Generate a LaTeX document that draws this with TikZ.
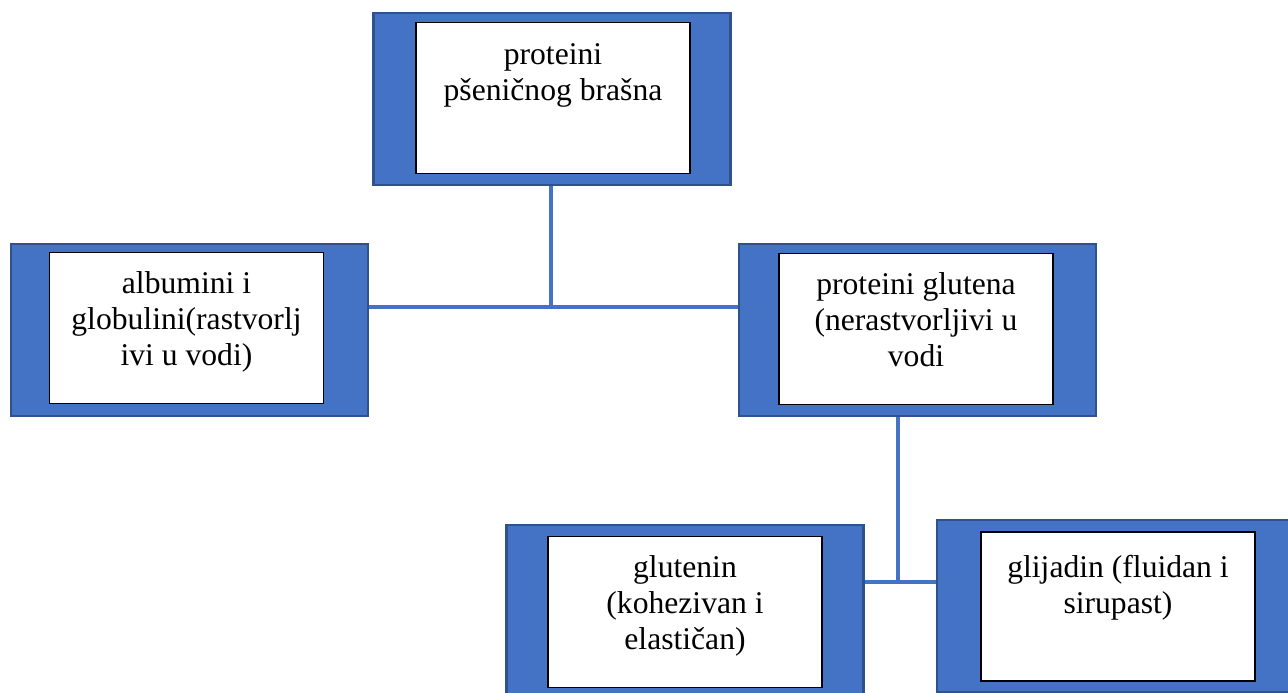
\documentclass[tikz,border=0pt]{standalone}
\usepackage{fontspec}
\setmainfont{Liberation Serif}
\usepackage{xcolor}
\usetikzlibrary{positioning}

\definecolor{plava}{HTML}{4472C4}
\definecolor{rub}{HTML}{2F528F}

\tikzset{
  vanjski/.style={draw=rub, line width=1.2pt, fill=plava, minimum width=7.14cm, minimum height=3.44cm, inner sep=0pt},
  unutarnji/.style={draw=black, line width=0.7pt, fill=white, minimum width=5.48cm, minimum height=3.02cm, inner sep=0pt},
  tekst/.style={align=center, inner sep=0pt, font=\fontsize{18}{20.5}\selectfont},
  veza/.style={draw=plava, line width=1.8pt}
}

\begin{document}
\begin{tikzpicture}[x=0.02cm, y=-0.02cm]

\clip (0,0) rectangle (1288,693);
\fill[white] (0,0) rectangle (1288,693);

% okviri
\node[vanjski] (vrh) at (552,99) {};
\node[vanjski] (lijevo) at (189.5,330) {};
\node[vanjski] (desno) at (917.5,330) {};
\node[vanjski] (glut) at (685,611) {};
\node[vanjski, minimum width=7.4cm] (glij) at (1122,606) {};

\node[unutarnji] (vrhIn) at (553,98) {};
\node[unutarnji] (lijevoIn) at (186.5,328) {};
\node[unutarnji] (desnoIn) at (916,329) {};
\node[unutarnji] (glutIn) at (685,612) {};
\node[unutarnji, minimum height=2.98cm] (glijIn) at (1118,606.5) {};

% tekstovi
\node[tekst, below=0.42cm of vrhIn.north] (vrhT) {proteini\\pšeničnog brašna};
\node[tekst, below=0.38cm of lijevoIn.north] (lijevoT) {albumini i\\globulini(rastvorlj\\ivi u vodi)};
\node[tekst, below=0.38cm of desnoIn.north] (desnoT) {proteini glutena\\(nerastvorljivi u\\vodi};
\node[tekst, below=0.38cm of glutIn.north] (glutT) {glutenin\\(kohezivan i\\elastičan)};
\node[tekst, below=0.46cm of glijIn.north] (glijT) {glijadin (fluidan i\\sirupast)};

% veze
\coordinate (spoj1) at (551,307);
\coordinate (spoj2) at (898,582);
\draw[veza] (vrh.south -| spoj1) -- (spoj1);
\draw[veza] (lijevo.east |- spoj1) -- (desno.west |- spoj1);
\draw[veza] (desno.south -| spoj2) -- (spoj2);
\draw[veza] (glut.east |- spoj2) -- (glij.west |- spoj2);

\end{tikzpicture}
\end{document}
